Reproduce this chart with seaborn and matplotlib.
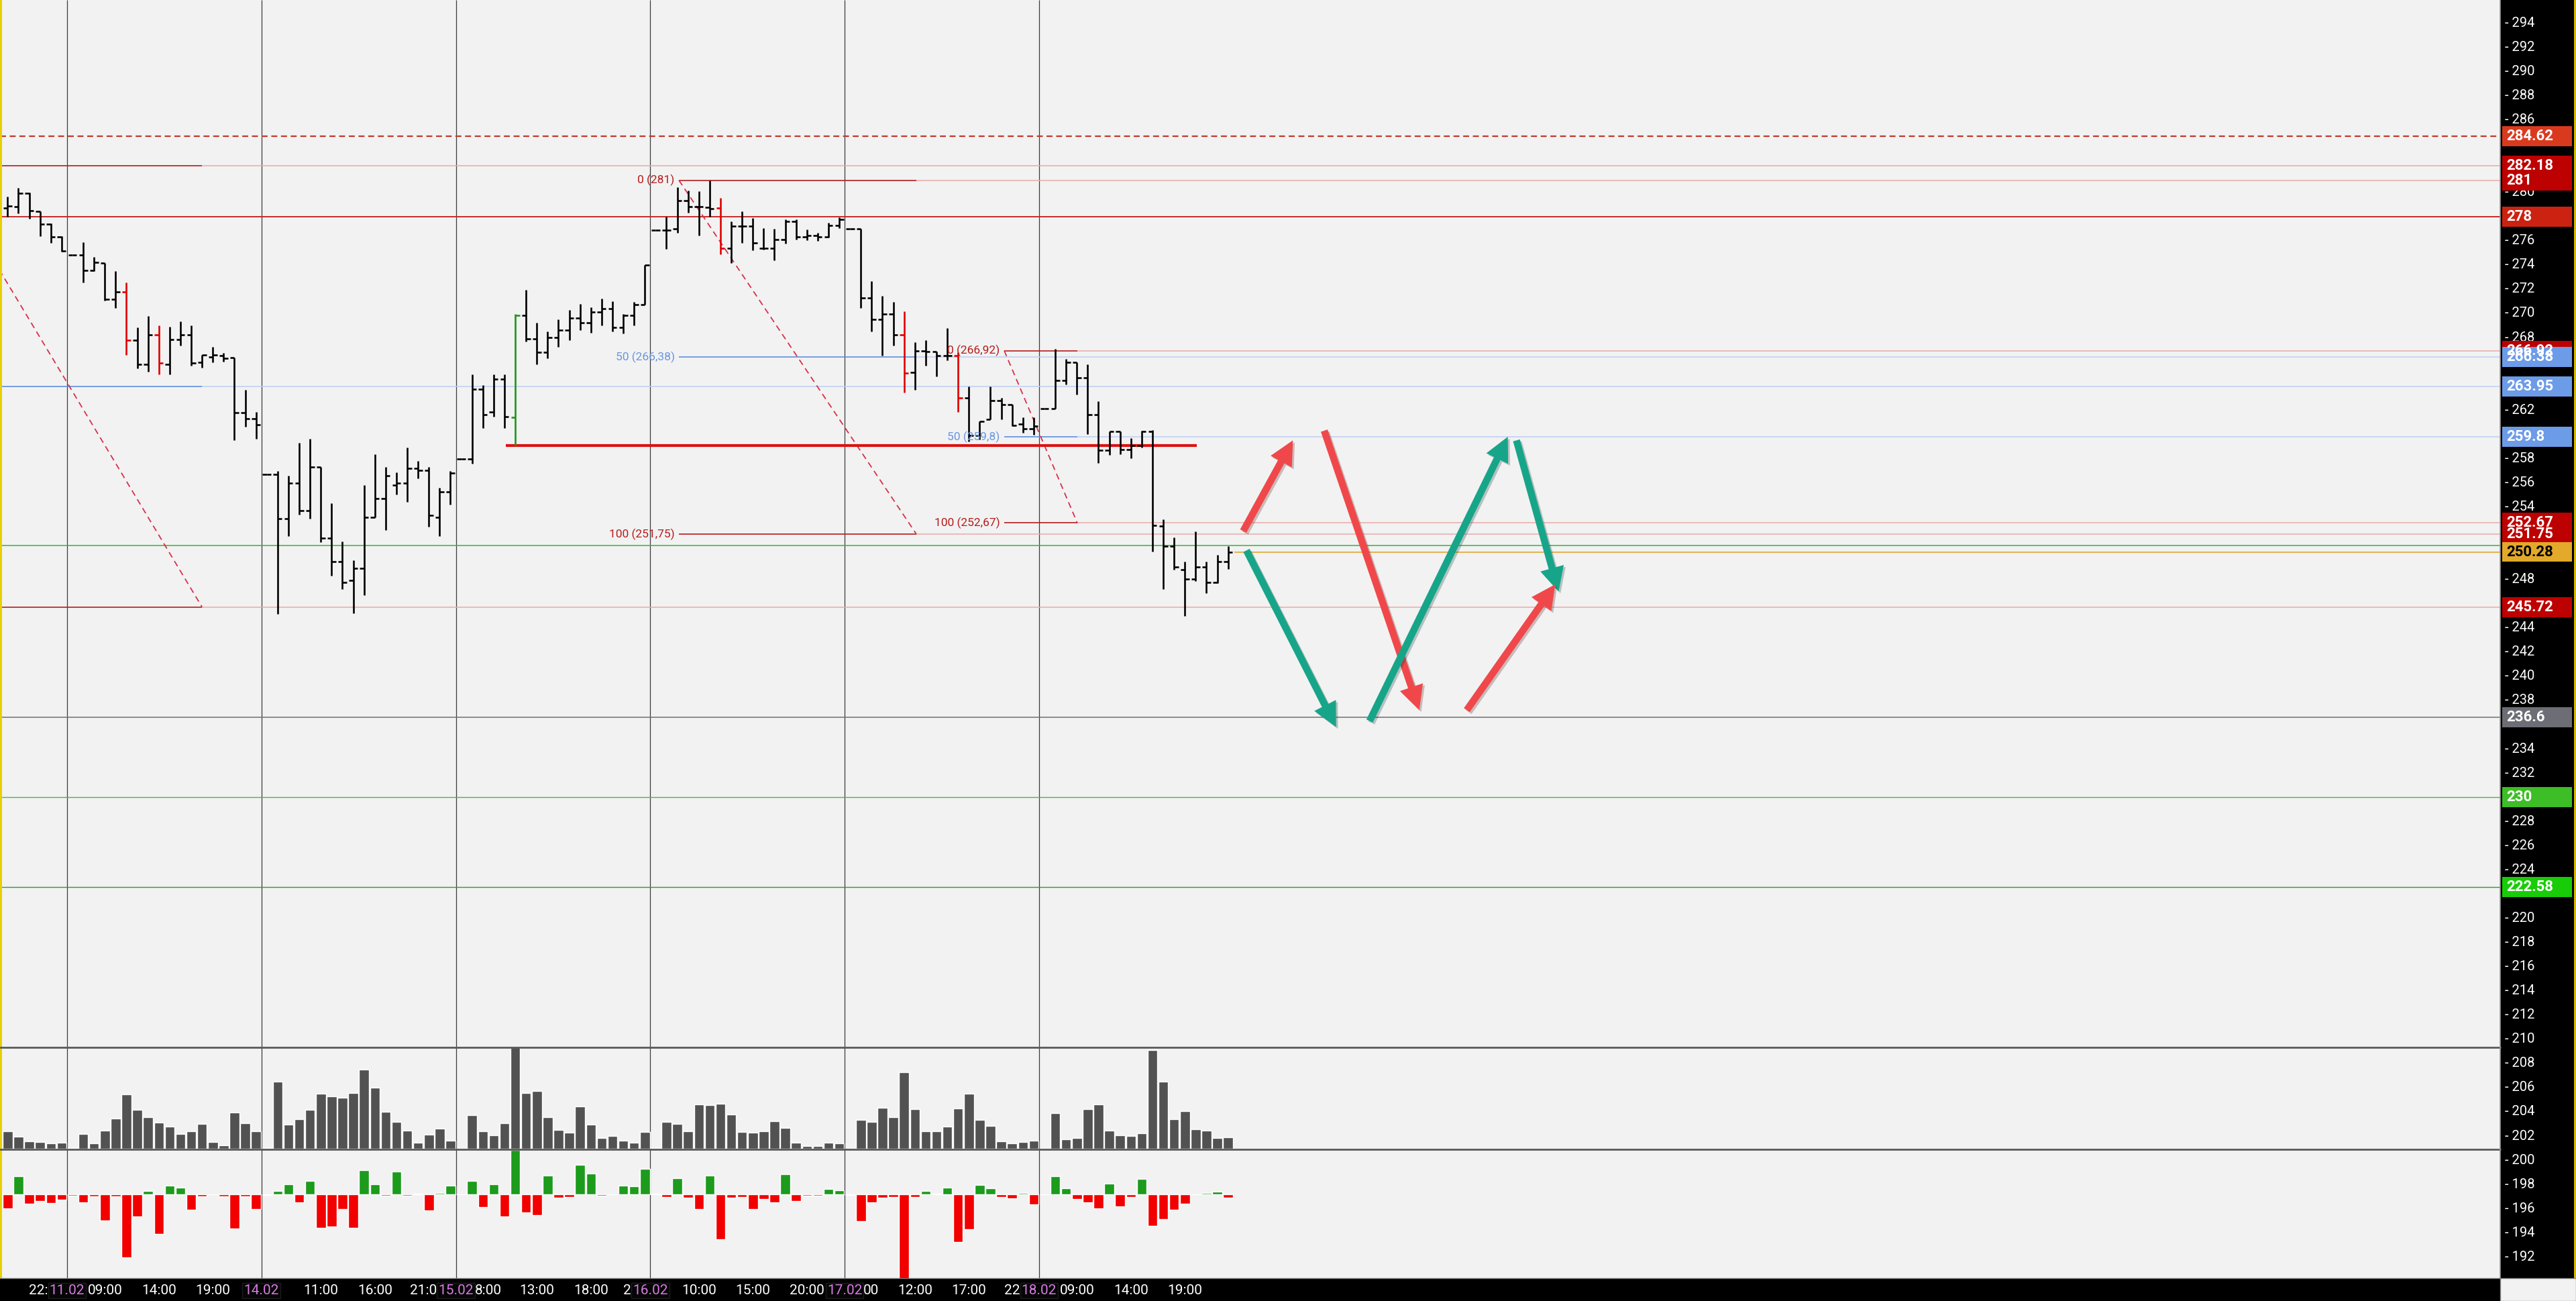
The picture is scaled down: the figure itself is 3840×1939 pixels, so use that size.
import numpy as np
import pandas as pd
import matplotlib
matplotlib.use("Agg")
import matplotlib.pyplot as plt
import seaborn as sns
from matplotlib.patches import FancyArrowPatch, Rectangle
from matplotlib.lines import Line2D
import matplotlib.patheffects as pe

sns.set_theme(style="white")
plt.rcParams['font.family'] = ['Roboto', 'DejaVu Sans']

# ---------------- data ----------------
bar_open = [278.72, 278.80, 279.94, 278.44, 277.38, 276.32,
            274.85, 274.85, 273.55, 274.18, 271.15, 271.80, 267.77, 265.80, 268.20, 265.80, 267.85, 268.20, 265.95, 266.40, 266.50, 266.36, 261.80, 261.30,
            256.70, 256.70, 253.00, 255.97, 253.70, 257.27, 251.44, 249.50, 247.93, 248.90, 253.14, 254.68, 255.80, 255.97, 257.20, 257.00, 253.14, 255.23,
            257.95, 257.95, 263.74, 261.83, 264.57, 261.40, 269.85, 267.90, 266.80, 268.00, 268.60, 269.60, 269.20, 270.10, 270.37, 268.85, 269.81, 270.74,
            276.87, 276.87, 277.00, 279.30, 278.83, 278.78, 278.69, 275.38, 277.20, 277.20, 275.38, 275.38, 276.12, 277.57, 276.30, 276.46, 276.33, 277.29,
            276.98, 276.98, 271.30, 269.50, 269.96, 268.24, 265.14, 266.91, 266.85, 266.50, 266.50, 263.03, 259.88, 261.24, 262.80, 262.44, 260.86, 260.44,
            262.12, 262.12, 264.47, 265.95, 264.69, 261.60, 258.70, 260.22, 258.74, 259.10, 260.25, 252.43, 250.75, 248.80, 248.05, 249.02, 247.77, 249.45]
bar_high = [279.65, 280.39, 280.00, 278.44, 277.42, 276.35,
            274.85, 275.90, 274.63, 274.18, 273.48, 272.55, 268.83, 269.76, 268.98, 268.90, 269.35, 268.98, 266.55, 267.20, 266.70, 266.36, 263.70, 261.86,
            256.70, 256.99, 256.60, 259.30, 259.60, 257.27, 254.30, 251.16, 249.60, 255.80, 258.37, 257.27, 256.86, 258.90, 257.82, 257.30, 255.56, 256.99,
            257.95, 264.94, 264.05, 264.94, 264.94, 269.95, 271.93, 269.20, 268.50, 269.50, 270.30, 270.80, 270.50, 271.20, 270.98, 269.96, 270.93, 274.01,
            276.87, 277.98, 280.45, 280.17, 280.08, 281.00, 279.52, 277.57, 278.41, 277.90, 277.05, 277.00, 277.76, 277.79, 276.92, 276.64, 277.48, 277.94,
            276.98, 276.98, 272.65, 271.45, 270.93, 270.19, 267.61, 267.80, 266.85, 268.80, 266.78, 263.95, 261.09, 263.95, 262.99, 262.47, 261.42, 261.42,
            262.12, 267.06, 266.23, 265.95, 265.76, 262.71, 260.22, 260.22, 259.70, 260.31, 260.37, 252.99, 251.50, 249.45, 251.96, 249.45, 250.01, 250.75]
bar_low = [277.99, 278.27, 277.80, 276.35, 275.85, 275.11,
           274.85, 272.55, 273.48, 271.06, 270.47, 266.55, 265.45, 265.17, 264.93, 264.93, 267.35, 265.67, 265.49, 265.95, 266.00, 259.50, 260.65, 259.60,
           256.70, 245.16, 251.57, 253.35, 253.05, 251.07, 248.30, 247.23, 245.20, 246.73, 253.14, 252.09, 255.05, 254.40, 256.38, 252.37, 251.57, 254.18,
           257.95, 257.58, 260.54, 261.46, 260.54, 259.10, 267.68, 265.80, 266.30, 267.20, 267.80, 268.60, 268.40, 269.00, 268.51, 268.33, 268.98, 270.70,
           276.87, 275.31, 276.64, 278.31, 276.42, 277.98, 274.90, 274.14, 275.81, 275.20, 275.25, 274.38, 275.75, 276.09, 276.03, 276.00, 276.24, 277.05,
           276.98, 270.46, 268.48, 266.53, 267.36, 263.47, 263.70, 265.67, 264.80, 266.13, 261.84, 259.40, 259.57, 261.24, 261.24, 260.68, 260.12, 259.94,
           262.12, 262.10, 264.10, 263.27, 260.03, 257.63, 258.31, 258.37, 258.04, 258.89, 250.30, 247.18, 248.80, 245.00, 247.87, 246.88, 247.68, 248.89]
bar_close = [278.90, 279.94, 278.46, 277.38, 276.32, 275.15,
             274.85, 273.55, 274.20, 271.15, 271.80, 267.77, 265.80, 268.20, 265.90, 267.85, 268.20, 265.90, 266.55, 266.55, 266.30, 261.80, 261.30, 260.80,
             256.70, 253.00, 255.97, 253.70, 257.27, 251.44, 249.50, 247.74, 248.90, 253.14, 254.68, 256.60, 255.97, 257.20, 257.00, 253.29, 255.23, 256.80,
             257.95, 263.74, 261.65, 264.57, 261.46, 269.86, 267.90, 266.80, 268.00, 268.60, 269.60, 269.20, 270.10, 270.37, 268.85, 269.81, 270.74, 274.01,
             276.87, 276.87, 279.30, 278.83, 278.83, 278.65, 275.38, 277.20, 277.20, 275.85, 275.38, 276.12, 277.57, 276.30, 276.46, 276.33, 277.29, 277.76,
             276.98, 271.30, 269.50, 269.96, 268.24, 265.04, 266.91, 266.85, 266.50, 266.50, 263.03, 259.88, 261.09, 262.80, 262.44, 260.72, 260.44, 260.68,
             262.12, 264.47, 265.95, 264.69, 261.60, 258.70, 260.22, 258.74, 259.10, 260.25, 252.45, 250.75, 249.04, 248.05, 249.02, 247.77, 249.45, 250.28]
red_bars = [11, 14, 66, 83, 88]
green_bars = [47]

volume = [79, 54, 34, 29, 25, 27,
          3, 65, 23, 81, 136, 242, 174, 142, 116, 100, 67, 78, 111, 29, 15, 162, 114, 77,
          3, 300, 109, 133, 175, 245, 234, 227, 248, 354, 274, 165, 119, 81, 26, 62, 89, 36,
          1, 150, 77, 59, 114, 453, 248, 258, 141, 84, 71, 188, 109, 47, 56, 36, 26, 76,
          3, 119, 110, 78, 197, 194, 201, 153, 76, 72, 78, 123, 94, 26, 12, 11, 28, 23,
          1, 130, 120, 182, 140, 341, 178, 79, 78, 99, 179, 245, 129, 102, 32, 23, 30, 36,
          1, 159, 43, 48, 176, 197, 80, 59, 56, 68, 440, 301, 133, 167, 86, 80, 49, 50]
delta = [-61, 81, -42, -28, -37, -22,
         -4, -34, -7, -116, -7, -280, -98, 15, -175, 41, 30, -67, -8, 2, -9, -151, -7, -65,
         -3, 15, 47, -34, 60, -150, -144, -66, -150, 108, 45, -6, 104, -5, 4, -72, 7, 40,
         2, 61, -55, 46, -99, 199, -81, -91, 85, -13, -12, 134, 93, -4, 2, 41, 38, 114,
         3, -12, 73, -13, -66, 84, -199, -13, -10, -66, -19, -34, 91, -29, -6, -6, 24, 19,
         -3, -119, -36, -15, -12, -380, -12, 16, 3, 31, -213, -154, 43, 28, -12, -18, 6, -43,
         2, 81, 27, -19, -36, -62, 48, -53, -12, 69, -139, -111, -68, -40, 2, 7, 13, -15]

session_breaks = [5.5, 23.5, 41.5, 59.5, 77.5, 95.5]
session_dates = ["11.02", "14.02", "15.02", "16.02", "17.02", "18.02"]
# hour labels; the ones partly hidden by a date box are shown only by their visible part
time_tick_pos = [3.75, 9, 14, 19, 29, 34, 39.75, 43.25, 49, 54, 57.75, 64, 69, 74, 79.25, 84, 89, 93.75, 99, 104, 109]
time_tick_labels = ["22:", "09:00", "14:00", "19:00", "11:00", "16:00", "21:0", "8:00", "13:00", "18:00",
                    "2", "10:00", "15:00", "20:00", "00", "12:00", "17:00", "22", "09:00", "14:00", "19:00"]
time_tick_align = ["right", "center", "center", "center", "center", "center", "right", "left", "center", "center",
                   "right", "center", "center", "center", "left", "center", "center", "right", "center", "center", "center"]
price_ticks = list(range(294, 190, -2))

# fibonacci retracements (start idx, end idx, 0-level, 100-level)
fib_x0 = [-6.55, 62.15, 92.27]
fib_x1 = [18.0, 84.14, 99.04]
fib_p0 = [282.18, 281.0, 266.92]
fib_p100 = [245.72, 251.75, 252.67]
fib_labelled = [False, True, True]

level_prices = [284.62, 282.18, 281.0, 278.0, 266.92, 266.38, 263.95, 259.8, 252.67, 251.75, 250.28, 245.72, 236.6, 230.0, 222.58]
level_labels = ["284.62", "282.18", "281", "278", "266.92", "266.38", "263.95", "259.8", "252.67", "251.75", "250.28", "245.72", "236.6", "230", "222.58"]
level_box_colors = ["#d93a1e", "#bd0000", "#bd0000", "#cc2211", "#bd0000", "#6c9be8", "#6c9be8", "#6c9be8",
                    "#bd0000", "#bd0000", "#e2a92a", "#bd0000", "#6d6d75", "#3dbd26", "#18cc08"]
level_text_colors = ["white"] * 10 + ["black"] + ["white"] * 4

support_line_price = 259.1
support_line_x = [46.12, 110.1]
green_level = 250.8
last_close_x = 113.6

arrow_x0 = [114.4, 121.9, 114.7, 126.1, 139.7, 135.1]
arrow_p0 = [252.0, 260.3, 250.4, 236.3, 259.5, 237.2]
arrow_x1 = [119.0, 130.7, 123.0, 138.9, 143.6, 143.3]
arrow_p1 = [259.5, 237.2, 235.8, 259.8, 247.0, 247.6]
arrow_kind = ["up", "up", "down", "down", "down", "up"]

# ---------------- layout ----------------
W, H = 3840, 1939
fig = plt.figure(figsize=(W / 100, H / 100), dpi=100, facecolor="black")


def frect(x0, y0, x1, y1):
    return [x0 / W, 1 - y1 / H, (x1 - x0) / W, (y1 - y0) / H]


PX_BAR = 16.1
X_LEFT = -0.708
X_RIGHT = X_LEFT + 3727 / PX_BAR
P_TOP = 295.90
P_BOT = P_TOP - 1905 / 18.03


def clean(a):
    a.set_xticks([])
    a.set_yticks([])
    a.set_xlabel("")
    a.set_ylabel("")
    for s in a.spines.values():
        s.set_visible(False)


ax = fig.add_axes(frect(0, 0, 3727, 1905))
ax.set_facecolor("#f2f2f2")
ax.set_xlim(X_LEFT, X_RIGHT)
ax.set_ylim(P_BOT, P_TOP)
clean(ax)

idx = np.arange(len(bar_open))
cols = ["#000000"] * len(idx)
for i in red_bars:
    cols[i] = "#e00000"
for i in green_bars:
    cols[i] = "#1e961e"

# session separators
ax.vlines(session_breaks, P_BOT, P_TOP, colors="#3a3a3a", lw=0.9, zorder=1)

# horizontal levels
ax.axhline(284.62, color="#c0392b", lw=1.6, ls=(0, (4, 2.5)), zorder=2)
ax.axhline(278.0, color="#c62828", lw=1.4, zorder=2)
ax.axhline(green_level, color="#33b833", lw=1.1, zorder=2)
ax.axhline(236.6, color="#707070", lw=1.1, zorder=2)
ax.axhline(230.0, color="#45b845", lw=1.0, zorder=2)
ax.axhline(222.58, color="#2e9a2e", lw=1.0, zorder=2)
ax.hlines(250.28, last_close_x, X_RIGHT, colors="#e0a020", lw=1.1, zorder=2)
ax.hlines(support_line_price, support_line_x[0], support_line_x[1], colors="#dd1111", lw=3.0, zorder=3)


def fmt(v):
    s = f"{v:.2f}".rstrip("0").rstrip(".")
    return s.replace(".", ",")


for x0, x1, p0, p100, lab in zip(fib_x0, fib_x1, fib_p0, fib_p100, fib_labelled):
    lv = [(0, p0, "#b71c1c", "#e7abab"), (50, (p0 + p100) / 2, "#5e8fe0", "#bccff2"),
          (100, p100, "#b71c1c", "#e7abab")]
    for pct, p, dark, light in lv:
        ax.hlines(p, x0, x1, colors=dark, lw=1.2, zorder=2)
        ax.hlines(p, x1, X_RIGHT, colors=light, lw=1.1, zorder=1.5)
        if lab:
            ax.text(x0 - 0.4, p, f"{pct} ({fmt(p)})", ha="right", va="center",
                    color=dark if pct != 50 else "#6a96e0", fontsize=12.5, zorder=6)
    ax.plot([x0, x1], [p0, p100], color="#d6304a", lw=1.3, ls=(0, (5, 3.5)), zorder=2)

# OHLC bars
ax.vlines(idx, bar_low, bar_high, colors=cols, lw=1.9, zorder=5)
ax.hlines(bar_open, idx - 0.4, idx, colors=cols, lw=1.9, zorder=5)
ax.hlines(bar_close, idx, idx + 0.4, colors=cols, lw=1.9, zorder=5)

# arrows
acol = {"up": "#f0484a", "down": "#17a589"}
for xa, pa, xb, pb, k in zip(arrow_x0, arrow_p0, arrow_x1, arrow_p1, arrow_kind):
    arr = FancyArrowPatch((xa, pa), (xb, pb),
                          arrowstyle="simple,head_length=1.3,head_width=1.3,tail_width=0.38",
                          mutation_scale=20, color=acol[k], lw=0, zorder=8,
                          shrinkA=0, shrinkB=0)
    arr.set_path_effects([pe.SimplePatchShadow(offset=(2, -2), alpha=0.25), pe.Normal()])
    ax.add_patch(arr)

# volume panel
df = pd.DataFrame({"idx": idx, "volume": volume, "delta": delta})
df["side"] = np.where(df["delta"] >= 0, "buy", "sell")

vax = fig.add_axes(frect(0, 1561, 3727, 1712))
vax.patch.set_alpha(0)
sns.barplot(data=df, x="idx", y="volume", native_scale=True, color="#525252",
            saturation=1, width=0.9, errorbar=None, ax=vax)
vax.set_xlim(X_LEFT, X_RIGHT)
vax.set_ylim(0, 453)
clean(vax)

dax = fig.add_axes(frect(0, 1713, 3727, 1905))
dax.patch.set_alpha(0)
sns.barplot(data=df, x="idx", y="delta", hue="side", native_scale=True,
            palette={"buy": "#1c9b1c", "sell": "#f20000"}, dodge=False,
            saturation=1, width=0.9, errorbar=None, legend=False, ax=dax)
dax.set_xlim(X_LEFT, X_RIGHT)
dax.set_ylim(-374, 202)
clean(dax)

for yy in (1561, 1713):
    fig.add_artist(Line2D([0, 3727 / W], [1 - yy / H] * 2, color="#5a5a5a", lw=2.0))

# right price axis
rax = fig.add_axes(frect(3727, 0, 3837, 1905))
rax.set_facecolor("black")
rax.set_ylim(P_BOT, P_TOP)
rax.set_xlim(0, 1)
clean(rax)
for t in price_ticks:
    # ticks hidden under a level box are not drawn
    if min(abs(t - p) for p in level_prices) < 0.75:
        continue
    rax.text(0.06, t, f"- {t}", color="white", fontsize=14.5, va="center", ha="left", zorder=2)
for p, lab, fc, tc in zip(level_prices, level_labels, level_box_colors, level_text_colors):
    rax.add_patch(Rectangle((0.03, p - 0.83), 0.94, 1.66, facecolor=fc, edgecolor="none", zorder=3))
    rax.text(0.08, p, lab, color=tc, fontsize=16, fontweight="bold", va="center", ha="left", zorder=4)
fig.add_artist(Line2D([3727 / W] * 2, [1 - 1905 / H, 1], color="#9a9a9a", lw=1.2))

# time axis
tax = fig.add_axes(frect(0, 1905, 3727, 1939))
tax.set_facecolor("black")
tax.set_xlim(X_LEFT, X_RIGHT)
tax.set_ylim(0, 1)
clean(tax)
for pos, lab, al in zip(time_tick_pos, time_tick_labels, time_tick_align):
    tax.text(pos, 0.45, lab, color="white", fontsize=15, ha=al, va="center", zorder=2)
for pos, lab in zip(session_breaks, session_dates):
    tax.text(pos, 0.45, lab, color="#d67be0", fontsize=15, ha="center", va="center", zorder=3,
             bbox=dict(boxstyle="square,pad=0.1", fc="#060606", ec="#1c1c1c", lw=1))
fig.add_artist(Line2D([0, 3727 / W], [1 - 1905 / H] * 2, color="#777777", lw=1.0))

# edges
fig.add_artist(Rectangle((3837 / W, 1 - 1905 / H), 3 / W, 1905 / H, transform=fig.transFigure,
                         facecolor="#d4b800", edgecolor="none"))
fig.add_artist(Rectangle((0, 1 - 1905 / H), 3 / W, 1905 / H, transform=fig.transFigure,
                         facecolor="#e8d000", edgecolor="none"))
fig.add_artist(Rectangle((3727 / W, 0), 113 / W, 34 / H, transform=fig.transFigure,
                         facecolor="#f2f2f2", edgecolor="#888888", lw=1))

fig.savefig("out.png", dpi=100, facecolor="black")
